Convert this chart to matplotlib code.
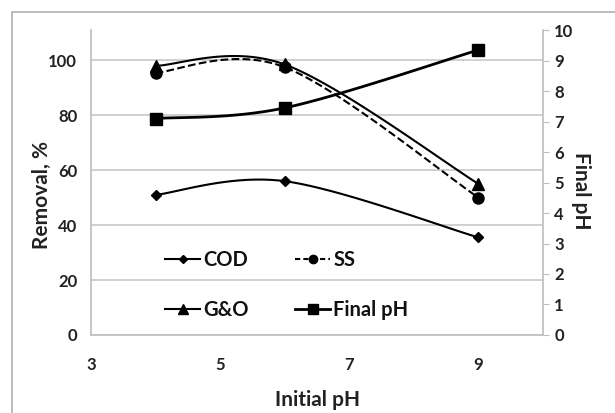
import matplotlib
matplotlib.use("Agg")
import matplotlib.pyplot as plt
import numpy as np
from matplotlib.patches import Rectangle

plt.rcParams["font.family"] = ["Lato", "DejaVu Sans"]

initial_ph = [4, 6, 9]
cod = [51, 56, 35.5]
ss = [95.5, 97.5, 50]
g_and_o = [98, 98.5, 55]
final_ph = [7.1, 7.45, 9.35]

x_ticks = [3, 5, 7, 9]
left_ticks = [0, 20, 40, 60, 80, 100]
right_ticks = list(range(0, 11))


def smooth(xs, ys, xr, yr, w, h, n=40):
    # excel-like bezier smoothing, done in physical units so the shape is right
    p = np.column_stack([(np.asarray(xs) - xr[0]) / (xr[1] - xr[0]) * w,
                         (np.asarray(ys) - yr[0]) / (yr[1] - yr[0]) * h])
    ext = np.vstack([p[0], p, p[-1]])
    out = []
    t = np.linspace(0, 1, n)[:, None]
    for i in range(len(p) - 1):
        p0, p1 = ext[i + 1], ext[i + 2]
        c1 = p0 + (ext[i + 2] - ext[i]) / 6
        c2 = p1 - (ext[i + 3] - ext[i + 1]) / 6
        seg = (1 - t) ** 3 * p0 + 3 * (1 - t) ** 2 * t * c1 + 3 * (1 - t) * t ** 2 * c2 + t ** 3 * p1
        out.append(seg)
    out = np.vstack(out)
    return (out[:, 0] / w * (xr[1] - xr[0]) + xr[0],
            out[:, 1] / h * (yr[1] - yr[0]) + yr[0])


fig = plt.figure(figsize=(6.15, 4.13), dpi=100)
fig.patches.append(Rectangle((0.02, -0.05), 1.1, 1.02, transform=fig.transFigure,
                             fill=False, edgecolor="#b0b0b0", linewidth=1.2))

ax = fig.add_axes([0.148, 0.189, 0.735, 0.738])
ax2 = ax.twinx()

xr = (3, 10)
yl = (0, 111)
yr2 = (0, 10)
w, h = 4.52, 3.05

for xs, ys, mk, ms, ls in [(initial_ph, cod, "D", 5.5, "-"),
                           (initial_ph, ss, "o", 8, "--"),
                           (initial_ph, g_and_o, "^", 8.5, "-")]:
    sx, sy = smooth(xs, ys, xr, yl, w, h)
    ax.plot(sx, sy, color="black", lw=1.5, ls=ls)
    ax.plot(xs, ys, ls="none", marker=mk, ms=ms, color="black")

sx, sy = smooth(initial_ph, final_ph, xr, yr2, w, h)
ax2.plot(sx, sy, color="black", lw=2)
ax2.plot(initial_ph, final_ph, ls="none", marker="s", ms=9, color="black")

ax.set_xlim(*xr)
ax.set_ylim(*yl)
ax2.set_ylim(*yr2)
ax.set_xticks(x_ticks)
ax.set_yticks(left_ticks)
ax2.set_yticks(right_ticks)
ax.grid(axis="y", color="#c8c8c8", lw=1.2)
ax.set_axisbelow(True)

for a in (ax, ax2):
    for s in a.spines.values():
        s.set_visible(False)
ax.spines["left"].set_visible(True)
ax.spines["bottom"].set_visible(True)
ax2.spines["right"].set_visible(True)
for s in (ax.spines["left"], ax.spines["bottom"], ax2.spines["right"]):
    s.set_color("#bdbdbd")
    s.set_linewidth(1.2)

ax.tick_params(axis="y", length=0, labelsize=12, pad=10)
ax.tick_params(axis="x", length=0, labelsize=12, pad=16)
ax2.tick_params(axis="y", length=4, color="#bdbdbd", labelsize=12, pad=4)
for lbl in ax.get_xticklabels() + ax.get_yticklabels() + ax2.get_yticklabels():
    lbl.set_fontweight("bold")
    lbl.set_color("#222222")

ax.set_xlabel("Initial pH", fontsize=15, fontweight="bold", color="#222222", labelpad=12)
ax.set_ylabel("Removal, %", fontsize=15, fontweight="bold", color="#222222")
ax.yaxis.set_label_coords(-0.086, 0.459)
ax2.set_ylabel("Final pH", fontsize=15, fontweight="bold", color="#222222", rotation=270)
ax2.yaxis.set_label_coords(1.106, 0.472)

handles = [
    plt.Line2D([], [], color="black", lw=1.5, marker="D", ms=4.5),
    plt.Line2D([], [], color="black", lw=1.5, marker="^", ms=7),
    plt.Line2D([], [], color="black", lw=1.5, ls=(0, (2.5, 1.5)), marker="o", ms=6),
    plt.Line2D([], [], color="black", lw=2, marker="s", ms=7),
]
labels = ["COD", "G&O", "SS", "Final pH"]
leg = ax.legend(handles, labels, ncol=2, frameon=False, loc="upper left",
                bbox_to_anchor=(0.164, 0.278), borderpad=0, borderaxespad=0,
                handlelength=1.75, handletextpad=0.15,
                columnspacing=2.3, labelspacing=1.5, prop={"size": 14.5, "weight": "bold"})
for t in leg.get_texts():
    t.set_color("#111111")

fig.savefig("out.png", dpi=100)
